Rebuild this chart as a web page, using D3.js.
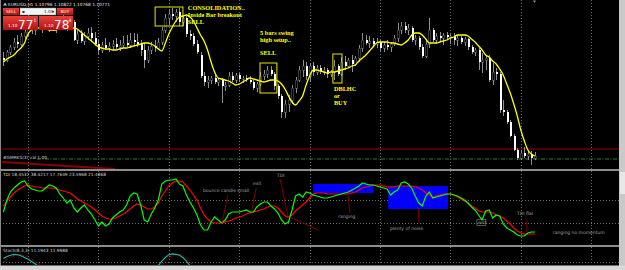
<!DOCTYPE html>
<html lang="en">
<head>
<meta charset="utf-8">
<style>
  html, body { margin: 0; padding: 0; background: #000; overflow: hidden; }
  svg { display: block; }
  text { font-family: "DejaVu Sans", sans-serif; }
</style>
</head>
<body>
<svg width="625" height="270"></svg>
<script src="https://d3js.org/d3.v7.min.js"></script>
<script>
// EURUSD H1 candles, pips above 1.1000 : [open, high, low, close]
const candles = [
  [177,183,169,175],[175,185,173,183],[183,190,180,188],[188,197,185,193],[193,200,187,191],
  [191,202,189,199],[199,207,195,203],[203,211,199,207],[207,215,201,205],[205,213,200,209],
  [209,217,205,207],[207,215,202,211],[211,219,205,208],[208,216,203,210],[210,217,204,206],
  [206,215,202,209],[209,218,205,212],[212,220,207,209],[209,217,204,211],[211,219,207,213],
  [213,215,194,195],[195,205,191,201],[201,205,192,194],[194,203,190,199],[199,207,195,202],
  [202,208,193,197],[197,203,189,191],[191,195,181,185],[185,193,182,190],[190,197,185,187],
  [187,193,183,189],[189,195,185,191],[191,197,186,188],[188,195,184,190],[190,199,187,192],
  [192,200,188,190],[190,202,187,195],[195,202,189,193],[193,201,188,191],[191,195,179,185],
  [185,192,167,175],[175,189,172,185],[185,193,181,189],[189,195,183,187],[187,197,185,193],
  [193,208,190,205],[205,221,202,217],[217,225,211,221],[221,227,215,219],[219,226,213,223],
  [223,227,209,213],[213,220,209,217],[217,219,198,201],[201,205,195,199],[199,202,189,191],
  [191,195,181,183],[180,183,157,159],[159,163,149,153],[153,159,147,155],[155,159,151,157],
  [157,160,151,153],[153,157,149,155],[155,157,132,149],[149,153,144,150],[150,163,148,159],
  [159,163,153,155],[155,162,152,160],[160,162,153,156],[156,159,152,157],[157,160,153,155],
  [155,159,151,153],[153,155,145,147],[147,153,143,151],[151,163,149,159],[159,165,155,161],
  [161,169,157,165],[165,169,159,161],[161,163,145,149],[149,151,136,139],[139,141,117,123],
  [123,135,117,131],[131,140,123,135],[135,150,131,147],[147,158,142,155],[155,169,153,165],
  [165,175,158,169],[169,173,155,159],[159,172,153,169],[169,173,159,163],[163,170,160,167],
  [167,170,161,164],[164,168,160,165],[165,167,157,161],[161,165,158,163],[163,175,155,169],
  [169,171,159,161],[161,178,159,173],[173,179,165,169],[169,177,167,175],[175,180,163,171],
  [171,179,169,177],[177,190,173,187],[187,202,183,195],[195,200,190,192],[192,199,187,194],
  [194,197,188,191],[191,197,187,193],[193,195,183,187],[187,193,183,190],[190,195,185,188],
  [188,193,183,191],[191,200,189,197],[197,212,193,205],[205,213,201,209],[209,213,202,205],
  [205,211,200,207],[207,209,193,195],[195,200,190,197],[197,199,185,188],[188,191,177,179],
  [179,195,177,191],[191,217,187,205],[205,207,193,195],[195,202,191,199],[199,203,193,197],
  [197,202,190,200],[200,203,195,198],[198,201,191,199],[199,202,190,195],[195,200,189,197],
  [197,199,191,193],[193,198,189,196],[196,197,185,188],[188,190,181,183],[183,187,179,185],
  [185,187,165,173],[173,182,162,175],[175,180,165,177],[177,180,153,155],[155,172,150,163],
  [163,167,155,161],[161,163,122,125],[125,135,119,123],[123,125,111,113],[113,115,98,99],
  [99,101,84,85],[85,87,75,77],[77,85,75,82],[82,88,77,79],[79,85,75,81],
  [81,84,70,77],[77,83,75,79]
];

// yellow moving average, pips above 1.1000
const maLine = [
  173,176,178,180,184,187,192,201,205,207, 207,206,206,205,205,205,207,207,207,207,
  207,206,203,200,197,194,191,188,187,186, 186,185,185,186,187,187,188,189,190,191,
  192,192,191,189,186,184,192,201,208,214, 218,219,220,218,214,207,200,194,185,173,
  163,157,156,155,154,152,150,151,153,155, 157,156,155,154,153,154,155,155,154,151,
  146,139,133,130,134,139,150,159,165,165, 164,163,162,163,163,164,165,166,167,169,
  170,174,177,180,184,188,192,193,193,193, 192,192,191,190,192,195,200,202,202,200,
  196,192,192,192,193,194,195,197,198,200, 200,200,199,196,193,189,185,180,178,174,
  171,166,160,151,142,131,119,105,94,85, 81,79
];

// TDI: green price line and red signal line
const tdiGreen = [
  48,60,68,72,75,78,79,74,71,70, 69,69,72,75,74,72,66,62,57,60,
  52,48,52,55,50,46,40,34,38,34, 36,42,45,48,50,55,64,67,66,55,
  40,38,46,52,60,76,79,80,80,81, 76,74,65,58,52,45,35,30,30,38,
  43,40,37,40,46,48,48,48,49,50, 48,48,53,56,58,58,54,51,47,40,
  36,38,50,64,66,63,68,67,65,64, 63,62,62,63,64,65,66,67,68,70,
  72,74,77,76,75,75,74,73,72,71, 65,68,70,77,78,76,72,64,57,54,
  64,68,62,63,64,65,66,66,65,64, 62,60,57,53,50,45,40,49,50,42,
  45,44,36,32,30,28,25,24,24,27, 28,28
];
const tdiRed = [
  54,59,63,67,70,72,74,75,74,73, 73,72,72,72,72,71,70,69,68,67,
  64,61,59,57,55,53,50,47,44,42, 41,41,42,44,46,48,51,54,56,55,
  53,51,51,53,57,64,69,74,77,79, 79,78,74,70,65,60,52,45,41,38,
  37,37,37,38,39,40,42,43,44,46, 47,48,49,50,51,53,54,54,52,48,
  44,43,45,49,52,55,58,62,66,67, 67,67,66,66,66,66,66,66,66,67,
  68,70,72,73,74,75,75,75,74,73, 73,73,74,74,74,74,74,73,72,70,
  67,65,63,64,65,66,66,66,65,63, 61,59,57,54,52,49,48,48,48,47,
  45,44,42,39,36,32,29,27,26,26, 26,26
];

// Stochastic(8,3,3)
const stochK = [
  88,92,95,97,96,94,90,86,81,76, 70,64,60,62,66,70,72,68,58,48,
  40,34,30,26,22,20,24,30,36,42, 46,50,48,44,40,38,42,48,55,60,
  58,55,58,64,72,82,90,96,98,97, 95,90,82,72,60,46,32,20,14,12,
  16,22,30,38,44,50,55,58,60,56, 52,48,45,50,58,64,60,48,32,18,
  10,8,14,30,50,64,70,72,68,66, 64,62,60,58,60,64,68,70,70,71,
  70,68,66,64,62,64,66,68,67,65, 62,58,55,50,56,62,66,68,66,62,
  60,55,50,48,52,55,58,60,58,55, 50,45,40,35,30,25,20,22,15,12,
  10,8,6,5,8,10,12,10,11,12, 11,12
];
const stochD = [
  80,86,91,94,96,96,93,90,86,81, 76,70,65,62,62,64,68,70,66,58,
  49,41,35,30,26,23,22,25,30,36, 41,46,48,47,44,41,40,43,48,54,
  58,58,57,59,65,73,81,89,95,97, 97,94,89,81,71,59,46,33,22,15,
  14,17,23,30,37,44,50,54,58,58, 56,52,48,48,51,57,61,57,47,33,
  20,12,11,17,31,48,61,69,70,69, 66,64,62,60,59,61,64,67,68,69,
  70,69,68,66,64,63,64,66,67,66, 64,61,58,55,54,56,60,64,66,65,
  63,60,55,51,50,52,55,58,59,58, 54,50,45,40,35,30,25,22,19,16,
  12,10,8,6,6,8,10,11,11,11, 11,12
];

const gridBars = [7, 27, 47, 67, 87, 107, 127, 147, 167];
const tdiLevels = [60, 37];
const stochLevels = [80];

// chart notes: bar index + price (pips) / TDI value
const setupBoxes = [
  { from: 43.1, to: 51.0, top: 228, bottom: 209 },
  { from: 72.9, to: 77.7, top: 172, bottom: 142 },
  { from: 93.6, to: 96.2, top: 181, bottom: 152 }
];
const setupNotes = [
  { bar: 52.4, price: 225, text: "CONSOLIDATION.." },
  { bar: 52.4, price: 218, text: "Inside Bar breakout" },
  { bar: 52.4, price: 211, text: "SELL" },
  { bar: 72.9, price: 200, text: "5  bars swing" },
  { bar: 72.9, price: 193, text: "high setup.." },
  { bar: 72.9, price: 180, text: "SELL" },
  { bar: 93.9, price: 144, text: "DBLHC" },
  { bar: 93.9, price: 137, text: "or" },
  { bar: 93.9, price: 130, text: "BUY" }
];
const tdiZones = [
  { from: 88, to: 105, top: 76, bottom: 67 },
  { from: 109.3, to: 126.3, top: 74, bottom: 51 }
];
const tdiNotes = [
  { bar: 56.7, val: 68, text: "bounce candle small" },
  { bar: 70.9, val: 75, text: "exit" },
  { bar: 77.7, val: 83, text: "TDI" },
  { bar: 95.1, val: 42, text: "ranging" },
  { bar: 109.8, val: 30, text: "plenty of noise" },
  { bar: 134.8, val: 36, text: "exit", boxed: true },
  { bar: 145.9, val: 45, text: "TDI flat" },
  { bar: 156.1, val: 26, text: "ranging no momentum" }
];
const tdiPointers = [
  [62.1, 37, 63.8, 65], [70.6, 50, 71.8, 72], [78.6, 81, 80.9, 43],
  [81.4, 43, 89.4, 30], [97.9, 65, 98.5, 47], [117.8, 53, 118.1, 37],
  [148.7, 40, 148.7, 28]
];

const svg = d3.select("svg");
const W = 625, H = 270;

const x = d3.scaleLinear().domain([0, 151]).range([3.4, 534.9]);
const yMain = d3.scaleLinear().domain([65, 235]).range([170, 0]);
const yTdi = d3.scaleLinear().domain([15, 89]).range([245, 171]);
const ySto = d3.scaleLinear().domain([0, 100]).range([298, 253]);

svg.append("rect").attr("width", W).attr("height", H).attr("fill", "#000");

const defs = svg.append("defs");
const panels = { main: [0, 169], tdi: [171, 245], sto: [247, 265] };
Object.entries(panels).forEach(([k, [a, b]]) => {
  defs.append("clipPath").attr("id", "clip-" + k)
    .append("rect").attr("x", 0).attr("y", a).attr("width", 619).attr("height", b - a);
});

// vertical grid through every panel
const grid = svg.append("g").attr("stroke", "#6e6e6e").attr("stroke-dasharray", "1,2");
Object.values(panels).forEach(([a, b]) => {
  grid.selectAll(null).data(gridBars).join("line")
    .attr("x1", d => Math.round(x(d)) + 0.5).attr("x2", d => Math.round(x(d)) + 0.5)
    .attr("y1", a).attr("y2", b);
});

// ---- main panel
const main = svg.append("g").attr("clip-path", "url(#clip-main)");

main.append("line").attr("x1", 2).attr("x2", 619)
  .attr("y1", yMain(86)).attr("y2", yMain(86))
  .attr("stroke", "#9a0000").attr("stroke-width", 1);
main.append("line").attr("x1", 37).attr("x2", 619)
  .attr("y1", yMain(76)).attr("y2", yMain(76))
  .attr("stroke", "#2f7f2f").attr("stroke-dasharray", "4,1.5,1,1.5");
main.append("line").attr("x1", 2).attr("x2", 115)
  .attr("y1", yMain(73)).attr("y2", yMain(66))
  .attr("stroke", "#8b0000").attr("stroke-width", 2);

const bars = main.append("g").attr("shape-rendering", "crispEdges");
bars.selectAll("line").data(candles).join("line")
  .attr("x1", (d, i) => Math.round(x(i)) + 0.5)
  .attr("x2", (d, i) => Math.round(x(i)) + 0.5)
  .attr("y1", d => yMain(d[1])).attr("y2", d => yMain(d[2]))
  .attr("stroke", "#8f8f8f");
bars.selectAll("rect").data(candles).join("rect")
  .attr("x", (d, i) => Math.round(x(i)) - 0.5)
  .attr("y", d => yMain(Math.max(d[0], d[3])))
  .attr("width", 2)
  .attr("height", d => Math.max(1, Math.abs(yMain(d[0]) - yMain(d[3]))))
  .attr("fill", d => d[3] < d[0] ? "#ffffff" : "#000")
  .attr("stroke", d => d[3] < d[0] ? "none" : "#6f6f6f")
  .attr("stroke-width", 0.5);

main.append("path").datum(maLine)
  .attr("fill", "none").attr("stroke", "#ffff00").attr("stroke-width", 1.3)
  .attr("d", d3.line().x((d, i) => x(i)).y(d => yMain(d)).curve(d3.curveMonotoneX));

main.append("g").selectAll("rect").data(setupBoxes).join("rect")
  .attr("x", d => x(d.from)).attr("width", d => x(d.to) - x(d.from))
  .attr("y", d => yMain(d.top)).attr("height", d => yMain(d.bottom) - yMain(d.top))
  .attr("fill", "none").attr("stroke", "#e6e600").attr("stroke-width", 1);

main.append("g").selectAll("text").data(setupNotes).join("text")
  .attr("x", d => x(d.bar)).attr("y", d => yMain(d.price))
  .attr("fill", "#ffff00")
  .style("font-family", "'Liberation Serif', serif")
  .style("font-weight", "bold").style("font-size", "6.3px")
  .text(d => d.text);

main.append("text").attr("x", 3).attr("y", 159)
  .attr("fill", "#cfcfcf").style("font-size", "4.3px")
  .text("#GMRKS(3) val 1.00");

main.append("text").attr("x", 8).attr("y", 5.5)
  .attr("fill", "#e0e0e0").style("font-size", "4.3px")
  .text("EURUSD,H1  1.10796 1.10822 1.10768 1.10771");
main.append("path").attr("d", "M3,5.5 L5,2.5 L7,5.5 Z").attr("fill", "#9ec0e0");

// one-click trading panel
const otp = main.append("g");
const redGrad = defs.append("linearGradient").attr("id", "red").attr("x1", 0).attr("x2", 0).attr("y1", 0).attr("y2", 1);
redGrad.append("stop").attr("offset", 0).attr("stop-color", "#e8413c");
redGrad.append("stop").attr("offset", 1).attr("stop-color", "#b3100f");
otp.append("rect").attr("x", 3).attr("y", 8).attr("width", 16).attr("height", 7).attr("fill", "url(#red)");
otp.append("rect").attr("x", 57).attr("y", 8).attr("width", 16).attr("height", 7).attr("fill", "url(#red)");
otp.append("rect").attr("x", 20).attr("y", 8).attr("width", 36).attr("height", 7).attr("fill", "#f4f4f4").attr("stroke", "#888").attr("stroke-width", 0.5);
otp.append("rect").attr("x", 3).attr("y", 16).attr("width", 35).attr("height", 14).attr("fill", "url(#red)");
otp.append("rect").attr("x", 39).attr("y", 16).attr("width", 34).attr("height", 14).attr("fill", "url(#red)");
otp.append("text").attr("x", 11).attr("y", 13.2).attr("text-anchor", "middle").attr("fill", "#fff").style("font-size", "4.2px").text("SELL");
otp.append("text").attr("x", 65).attr("y", 13.2).attr("text-anchor", "middle").attr("fill", "#fff").style("font-size", "4.2px").text("BUY");
otp.append("text").attr("x", 22).attr("y", 13.2).attr("fill", "#333").style("font-size", "4.2px").text("▪");
otp.append("text").attr("x", 44).attr("y", 13.2).attr("fill", "#333").style("font-size", "4.2px").text("1.00");
otp.append("text").attr("x", 52).attr("y", 13.2).attr("fill", "#333").style("font-size", "4.2px").text("▾");
otp.append("text").attr("x", 8).attr("y", 27).attr("fill", "#fff").style("font-size", "4.2px").text("1.10");
otp.append("text").attr("x", 18).attr("y", 28.5).attr("fill", "#fff").style("font-size", "12px").text("77");
otp.append("text").attr("x", 33.5).attr("y", 21.5).attr("fill", "#fff").style("font-size", "4.5px").text("1");
otp.append("text").attr("x", 44).attr("y", 27).attr("fill", "#fff").style("font-size", "4.2px").text("1.10");
otp.append("text").attr("x", 54).attr("y", 28.5).attr("fill", "#fff").style("font-size", "12px").text("78");
otp.append("text").attr("x", 68.5).attr("y", 21.5).attr("fill", "#fff").style("font-size", "4.5px").text("4");

// ---- TDI panel
const tdi = svg.append("g").attr("clip-path", "url(#clip-tdi)");
tdi.selectAll("line.lvl").data(tdiLevels).join("line")
  .attr("x1", 0).attr("x2", 619)
  .attr("y1", d => Math.round(yTdi(d)) + 0.5).attr("y2", d => Math.round(yTdi(d)) + 0.5)
  .attr("stroke", "#6e6e6e").attr("stroke-dasharray", "1,2");
tdi.append("g").selectAll("rect").data(tdiZones).join("rect")
  .attr("x", d => x(d.from)).attr("width", d => x(d.to) - x(d.from))
  .attr("y", d => yTdi(d.top)).attr("height", d => yTdi(d.bottom) - yTdi(d.top))
  .attr("fill", "#0000ff");
const tdiLine = d3.line().x((d, i) => x(i)).y(d => yTdi(d));
tdi.append("path").datum(tdiRed).attr("d", tdiLine)
  .attr("fill", "none").attr("stroke", "#ff0000").attr("stroke-width", 1.2);
tdi.append("path").datum(tdiGreen).attr("d", tdiLine)
  .attr("fill", "none").attr("stroke", "#00ff00").attr("stroke-width", 1.2);
tdi.append("g").selectAll("line").data(tdiPointers).join("line")
  .attr("x1", d => x(d[0])).attr("y1", d => yTdi(d[1]))
  .attr("x2", d => x(d[2])).attr("y2", d => yTdi(d[3]))
  .attr("stroke", "#8b0000").attr("stroke-width", 0.9);
const notes = tdi.append("g").selectAll("g").data(tdiNotes).join("g");
notes.append("text")
  .attr("x", d => x(d.bar)).attr("y", d => yTdi(d.val))
  .attr("fill", "#a0a0a0").style("font-size", "4.5px")
  .text(d => d.text);
notes.filter(d => d.boxed).append("rect")
  .attr("x", d => x(d.bar) - 1).attr("y", d => yTdi(d.val) - 4.5)
  .attr("width", 9).attr("height", 6)
  .attr("fill", "none").attr("stroke", "#a0a0a0").attr("stroke-width", 0.5);
tdi.append("text").attr("x", 3).attr("y", 176)
  .attr("fill", "#cfcfcf").style("font-size", "4.3px")
  .text("TDI 18.4532 38.4217 17.7649 23.5968 21.4868");

// ---- Stochastic panel
const sto = svg.append("g").attr("clip-path", "url(#clip-sto)");
sto.selectAll("line.lvl").data(stochLevels).join("line")
  .attr("x1", 0).attr("x2", 619)
  .attr("y1", d => Math.round(ySto(d)) + 0.5).attr("y2", d => Math.round(ySto(d)) + 0.5)
  .attr("stroke", "#6e6e6e").attr("stroke-dasharray", "1,2");
const stoLine = d3.line().x((d, i) => x(i)).y(d => ySto(d));
sto.append("path").datum(stochD).attr("d", stoLine)
  .attr("fill", "none").attr("stroke", "#b00000").attr("stroke-width", 1).attr("stroke-dasharray", "2,1.5");
sto.append("path").datum(stochK).attr("d", stoLine)
  .attr("fill", "none").attr("stroke", "#20b2aa").attr("stroke-width", 1.1);
sto.append("text").attr("x", 3).attr("y", 252)
  .attr("fill", "#cfcfcf").style("font-size", "4.3px")
  .text("Stoch(8,3,3) 11.1943 11.9988");

// ---- window chrome
svg.append("line").attr("x1", 0).attr("x2", 619).attr("y1", 170).attr("y2", 170).attr("stroke", "#bdbdbd").attr("stroke-width", 1.5);
svg.append("line").attr("x1", 0).attr("x2", 619).attr("y1", 246).attr("y2", 246).attr("stroke", "#bdbdbd").attr("stroke-width", 1.5);
svg.append("rect").attr("x", 0).attr("y", 0).attr("width", 1).attr("height", H).attr("fill", "#8a8a8a");
svg.append("rect").attr("x", 619).attr("y", 0).attr("width", 6).attr("height", H).attr("fill", "#c9c9c9");
svg.append("rect").attr("x", 620).attr("y", 172).attr("width", 5).attr("height", 22).attr("fill", "#e8e8e8");
svg.append("rect").attr("x", 0).attr("y", 265.5).attr("width", W).attr("height", 4.5).attr("fill", "#d8d8d8");
svg.append("path").attr("d", "M533,0.5 L536,0.5 L534.5,3 Z").attr("fill", "#8a8a8a");
</script>
</body>
</html>
